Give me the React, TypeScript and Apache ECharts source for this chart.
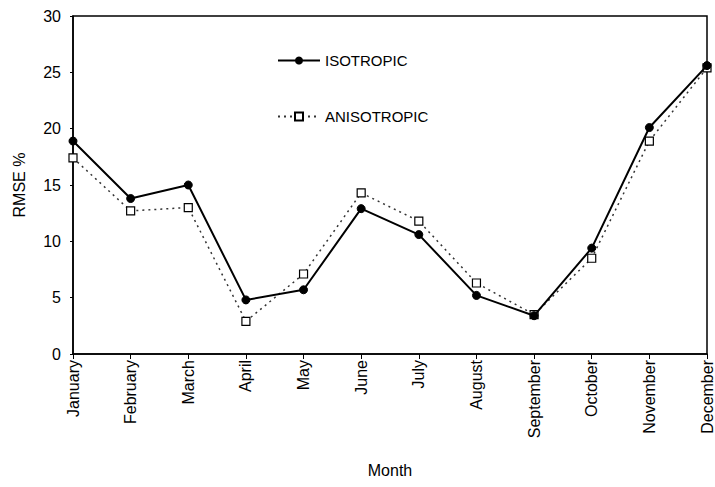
import React, { useEffect, useRef } from "react";
import * as echarts from "echarts";

const months = ["January", "February", "March", "April", "May", "June", "July", "August", "September", "October", "November", "December"];
const isotropic = [18.9, 13.8, 15.0, 4.8, 5.7, 12.9, 10.6, 5.2, 3.4, 9.4, 20.1, 25.6];
const anisotropic = [17.4, 12.7, 13.0, 2.9, 7.1, 14.3, 11.8, 6.3, 3.5, 8.5, 18.9, 25.4];
const yTicks = [0, 5, 10, 15, 20, 25, 30];

export default function App() {
  const ref = useRef<HTMLDivElement>(null);
  useEffect(() => {
    if (!ref.current) return;
    const chart = echarts.init(ref.current, null, { renderer: "svg" });
    const font = "Liberation Sans, Arial, sans-serif";
    chart.setOption({
      animation: false,
      backgroundColor: "#fff",
      grid: { left: 73, right: 6, top: 16, bottom: 133, show: true, borderColor: "#000", borderWidth: 1.5 },
      legend: {
        orient: "vertical",
        left: 272,
        top: 48,
        itemGap: 41,
        itemWidth: 42,
        itemHeight: 10,
        textStyle: { fontFamily: font, fontSize: 15, color: "#000" },
        data: ["ISOTROPIC", "ANISOTROPIC"],
      },
      xAxis: {
        type: "category",
        data: months,
        boundaryGap: false,
        name: "Month",
        nameLocation: "middle",
        nameGap: 108,
        nameTextStyle: { fontFamily: font, fontSize: 16, color: "#000" },
        axisLine: { lineStyle: { color: "#000", width: 1.5 } },
        axisTick: { show: true, inside: false, length: 5, lineStyle: { color: "#000" } },
        axisLabel: { rotate: 90, fontFamily: font, fontSize: 16, color: "#000", margin: 6 },
        splitLine: { show: false },
      },
      yAxis: {
        type: "value",
        min: yTicks[0],
        max: yTicks[yTicks.length - 1],
        interval: 5,
        name: "RMSE %",
        nameLocation: "middle",
        nameGap: 46,
        nameTextStyle: { fontFamily: font, fontSize: 16, color: "#000" },
        axisLine: { show: true, lineStyle: { color: "#000", width: 1.5 } },
        axisTick: { show: true, inside: false, length: 3, lineStyle: { color: "#000" } },
        axisLabel: { fontFamily: font, fontSize: 16, color: "#000", margin: 12 },
        splitLine: { show: false },
      },
      series: [
        {
          name: "ISOTROPIC",
          type: "line",
          data: isotropic,
          symbol: "circle",
          symbolSize: 8,
          itemStyle: { color: "#000", borderColor: "#000" },
          lineStyle: { color: "#000", width: 2, type: "solid" },
          z: 3,
        },
        {
          name: "ANISOTROPIC",
          type: "line",
          data: anisotropic,
          symbol: "rect",
          symbolSize: 8,
          itemStyle: { color: "#fff", borderColor: "#000", borderWidth: 1.2 },
          lineStyle: { color: "#333", width: 1.5, type: [2, 4] },
          z: 2,
        },
      ],
    });
    return () => chart.dispose();
  }, []);
  return <div ref={ref} style={{ width: 715, height: 487, position: "absolute", left: 0, top: 0 }} />;
}
